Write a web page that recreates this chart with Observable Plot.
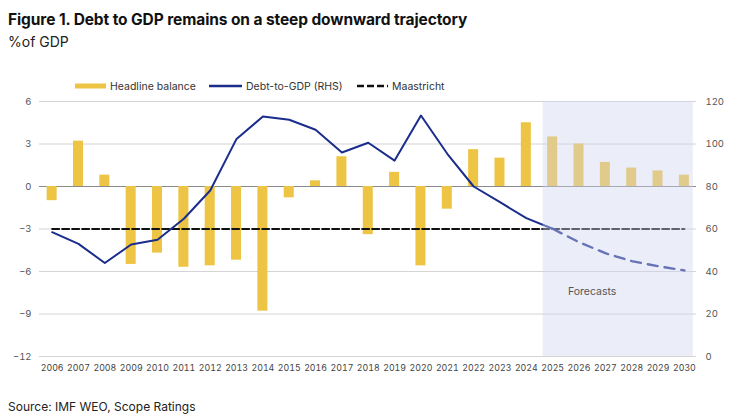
<!DOCTYPE html>
<html>
<head>
<meta charset="utf-8">
<script src="https://cdn.jsdelivr.net/npm/d3@7"></script>
<script src="https://cdn.jsdelivr.net/npm/@observablehq/plot@0.6"></script>
<style>
  html, body { margin: 0; padding: 0; background: #fff; }
  body { width: 740px; height: 417px; position: relative; overflow: hidden; font-family: Inter, "Noto Sans", sans-serif; color: #111; }
  #title { position: absolute; left: 8px; top: 10px; font-size: 15.5px; font-weight: 700; letter-spacing: -0.1px; white-space: nowrap; }
  #subtitle { position: absolute; left: 8px; top: 33px; font-size: 14px; font-weight: 400; color: #222; white-space: nowrap; }
  #legend { position: absolute; left: 0; top: 78px; height: 16px; width: 740px; font-size: 10.5px; color: #333; }
  #legend .item { position: absolute; top: 0; display: flex; align-items: center; height: 16px; white-space: nowrap; }
  #legend svg { margin-right: 4px; }
  #chart { position: absolute; left: 0; top: 92px; }
  #source { position: absolute; left: 8px; top: 399px; font-size: 12px; color: #222; white-space: nowrap; }
</style>
</head>
<body>
<div id="title">Figure 1. Debt to GDP remains on a steep downward trajectory</div>
<div id="subtitle">%of GDP</div>
<div id="legend"></div>
<div id="chart"></div>
<div id="source">Source: IMF WEO, Scope Ratings</div>
<script>
// ---- data ----
const years = [2006, 2007, 2008, 2009, 2010, 2011, 2012, 2013, 2014, 2015, 2016, 2017, 2018,
               2019, 2020, 2021, 2022, 2023, 2024, 2025, 2026, 2027, 2028, 2029, 2030];
const headlineBalance = [-1.0, 3.2, 0.8, -5.5, -4.7, -5.7, -5.6, -5.2, -8.8, -0.8, 0.4, 2.1, -3.4,
                         1.0, -5.6, -1.6, 2.6, 2.0, 4.5, 3.5, 3.0, 1.7, 1.3, 1.1, 0.8];
const debtToGDP = [58.5, 53.0, 44.0, 52.7, 54.9, 64.8, 78.1, 102.4, 112.9, 111.4, 106.7, 96.0, 100.6,
                   92.2, 113.4, 95.4, 80.0, 72.6, 65.1, 60.1, 53.8, 48.6, 44.9, 42.5, 40.5];
const maastrichtDebt = 60;          // % of GDP (RHS); equals -3 on LHS
const firstForecastYear = 2025;
const forecastRegion = [2024.64, 2030.34];
const leftTicks = [-12, -9, -6, -3, 0, 3, 6];
const rightTicks = [0, 20, 40, 60, 80, 100, 120];
const legendItems = ["Headline balance", "Debt-to-GDP (RHS)", "Maastricht"];

// RHS -> LHS mapping (120 <-> 6, 0 <-> -12)
const toLeft = r => (r - 80) * 3 / 20;

const rows = years.map((year, i) => ({year, balance: headlineBalance[i], debt: debtToGDP[i], debtL: toLeft(debtToGDP[i])}));
const actualDebt = rows.filter(d => d.year <= firstForecastYear);
const forecastDebt = rows.filter(d => d.year >= firstForecastYear);
const maastrichtRows = [years[0], years[years.length - 1]].map(year => ({year, v: toLeft(maastrichtDebt)}));

const barColor = "#edc443";
const navy = "#1b2d8c";

const chart = Plot.plot({
  width: 740,
  height: 290,
  marginLeft: 39,
  marginRight: 44,
  marginTop: 9,
  marginBottom: 26,
  x: {domain: [2005.52, 2030.46], axis: null},
  y: {domain: [-12, 6], axis: null},
  style: {fontFamily: "Inter, 'Noto Sans', sans-serif", background: "#fff", overflow: "visible"},
  marks: [
    Plot.gridY(leftTicks.filter(t => t !== 0), {stroke: "#d4d4d4", strokeOpacity: 1, strokeWidth: 1}),
    Plot.ruleY([0], {stroke: "#8a8a8a", strokeWidth: 1}),
    Plot.rectY(rows, {x1: d => d.year - 0.19, x2: d => d.year + 0.19, y: "balance", fill: barColor}),
    Plot.line(maastrichtRows, {x: "year", y: "v", stroke: "#111", strokeWidth: 2, strokeDasharray: "7,3"}),
    Plot.line(actualDebt, {x: "year", y: "debtL", stroke: navy, strokeWidth: 2, curve: "linear"}),
    Plot.line(forecastDebt, {x: "year", y: "debtL", stroke: navy, strokeWidth: 2.4, strokeDasharray: "10,7"}),
    Plot.rect([{x1: forecastRegion[0], x2: forecastRegion[1]}], {x1: "x1", x2: "x2", y1: -12, y2: 6, fill: "#cfd4f0", fillOpacity: 0.42}),
    Plot.text(["Forecasts"], {x: 2026.5, y: -7.4, text: d => d, fill: "#555", fontSize: 10.5}),
    Plot.axisY(leftTicks, {anchor: "left", tickSize: 0, tickPadding: 8, fontSize: 9.5, fill: "#555"}),
    Plot.axisY(leftTicks, {anchor: "right", tickSize: 0, tickPadding: 9, fontSize: 9.5, fill: "#555",
      tickFormat: v => String(rightTicks[leftTicks.indexOf(v)])}),
    Plot.axisX(years, {anchor: "bottom", tickSize: 0, tickPadding: 8, fontSize: 8.8, fill: "#444", tickFormat: d => String(d)})
  ]
});
document.getElementById("chart").appendChild(chart);

// ---- legend ----
const legend = document.getElementById("legend");
const swatches = [
  `<svg width="31" height="8"><rect x="0" y="1.5" width="31" height="5" fill="${barColor}"/></svg>`,
  `<svg width="33" height="8"><line x1="0" y1="4" x2="33" y2="4" stroke="${navy}" stroke-width="2.5"/></svg>`,
  `<svg width="31" height="8"><line x1="0" y1="4" x2="31" y2="4" stroke="#111" stroke-width="2.5" stroke-dasharray="7,3"/></svg>`
];
const lefts = [75, 209, 357];
legendItems.forEach((label, i) => {
  const el = document.createElement("div");
  el.className = "item";
  el.style.left = lefts[i] + "px";
  el.innerHTML = swatches[i] + `<span>${label}</span>`;
  legend.appendChild(el);
});
</script>
</body>
</html>
